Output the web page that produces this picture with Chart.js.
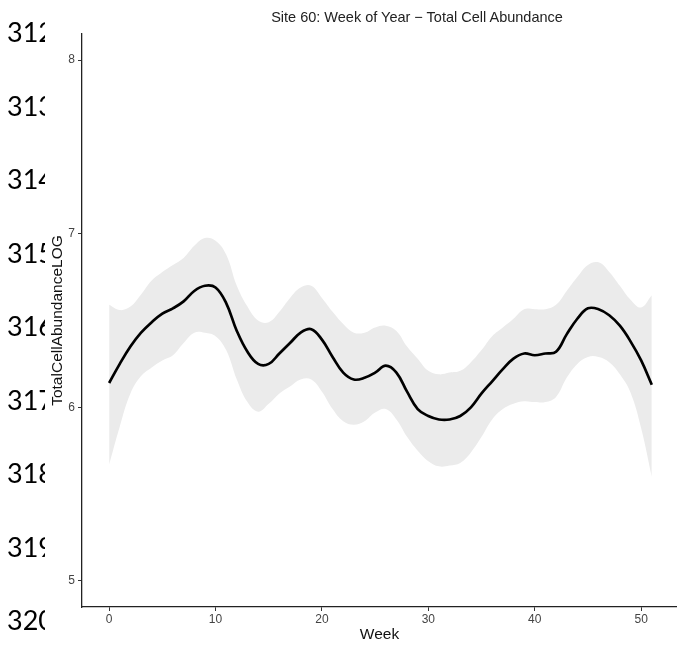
<!DOCTYPE html>
<html>
<head>
<meta charset="utf-8">
<script src="https://cdn.jsdelivr.net/npm/chart.js@4.4.1/dist/chart.umd.min.js"></script>
<style>
  html, body { margin: 0; padding: 0; background: #fff; }
  #wrap { position: relative; width: 677px; height: 645px; overflow: hidden; }
  #c { position: absolute; left: 0; top: 0; }
  #lines { position: absolute; left: 0; top: 0; width: 45px; height: 645px; overflow: hidden; }
  .ln { position: absolute; left: 7px; font-family: Lato, "Open Sans", sans-serif; font-size: 27px;
        line-height: 30px; color: #000; white-space: nowrap; }
  #title { position: absolute; top: 9px; left: 217px; width: 400px; text-align: center;
           font-family: "Liberation Sans", Arial, sans-serif; font-size: 14.5px; color: #222; white-space: nowrap; }
</style>
</head>
<body>
<div id="wrap">
  <canvas id="c" width="677" height="645"></canvas>
  <div id="lines"></div>
  <div id="title"></div>
</div>
<script>
// Weekly smoothed fit of log total cell abundance with its confidence band
const weeks = [0, 1, 2, 3, 4, 5, 6, 7, 8, 9, 10, 11, 12, 13, 14, 15, 16, 17, 18, 19, 20, 21, 22, 23, 24, 25,
               26, 27, 28, 29, 30, 31, 32, 33, 34, 35, 36, 37, 38, 39, 40, 41, 42, 43, 44, 45, 46, 47, 48, 49, 50, 51];
const fitValues = [6.14, 6.25, 6.35, 6.43, 6.49, 6.54, 6.57, 6.61, 6.67, 6.70, 6.69, 6.60, 6.44, 6.32, 6.25, 6.25,
                   6.31, 6.37, 6.43, 6.45, 6.39, 6.29, 6.20, 6.16, 6.17, 6.20, 6.24, 6.20, 6.09, 5.99, 5.95, 5.93,
                   5.93, 5.95, 6.00, 6.08, 6.15, 6.22, 6.28, 6.31, 6.30, 6.31, 6.32, 6.42, 6.51, 6.57, 6.565, 6.53,
                   6.47, 6.38, 6.27, 6.13];
const upperValues = [6.59, 6.56, 6.58, 6.65, 6.73, 6.78, 6.82, 6.86, 6.93, 6.975, 6.96, 6.88, 6.70, 6.58, 6.50, 6.49,
                     6.55, 6.63, 6.69, 6.70, 6.63, 6.55, 6.48, 6.43, 6.43, 6.46, 6.47, 6.44, 6.35, 6.28, 6.21, 6.19,
                     6.20, 6.21, 6.26, 6.33, 6.41, 6.46, 6.51, 6.565, 6.565, 6.565, 6.59, 6.67, 6.75, 6.82, 6.835, 6.78,
                     6.70, 6.62, 6.575, 6.645];
const lowerValues = [5.67, 5.89, 6.08, 6.18, 6.23, 6.27, 6.30, 6.37, 6.43, 6.43, 6.41, 6.33, 6.16, 6.03, 5.975, 6.02,
                     6.08, 6.12, 6.16, 6.16, 6.09, 5.99, 5.92, 5.90, 5.92, 5.97, 5.99, 5.93, 5.83, 5.75, 5.69, 5.66,
                     5.665, 5.68, 5.74, 5.83, 5.93, 5.99, 6.02, 6.035, 6.03, 6.03, 6.06, 6.17, 6.25, 6.29, 6.29, 6.26,
                     6.19, 6.085, 5.88, 5.60];
const xTickValues = [0, 10, 20, 30, 40, 50];
const yTickValues = [5, 6, 7, 8];
const lineNumbers = ['312', '313', '314', '315', '316', '317', '318', '319', '320'];

const chartTitle = 'Site 60: Week of Year \u2212 Total Cell Abundance';
const xTitle = 'Week';
const yTitle = 'TotalCellAbundanceLOG';

// manuscript line numbers running down the left margin
const lines = document.getElementById('lines');
lineNumbers.forEach((t, i) => {
  const d = document.createElement('div');
  d.className = 'ln';
  d.textContent = t;
  d.style.top = (17 + i * 73.5) + 'px';
  lines.appendChild(d);
});
document.getElementById('title').textContent = chartTitle;

const pts = arr => weeks.map((w, i) => ({ x: w, y: arr[i] }));
const FONT = '"Liberation Sans", Arial, sans-serif';
const band = '#ebebeb';

new Chart(document.getElementById('c'), {
  type: 'line',
  data: {
    datasets: [
      { data: pts(fitValues), borderColor: '#000', borderWidth: 2.7, pointRadius: 0, tension: 0.4, fill: false },
      { data: pts(upperValues), borderWidth: 0, borderColor: band, pointRadius: 0, tension: 0.4,
        backgroundColor: band, fill: false },
      { data: pts(lowerValues), borderWidth: 0, borderColor: band, pointRadius: 0, tension: 0.4,
        backgroundColor: band, fill: 1 }
    ]
  },
  options: {
    responsive: false,
    animation: false,
    devicePixelRatio: 1,
    layout: { padding: { top: 34, left: 0, right: 0, bottom: 0 } },
    plugins: { legend: { display: false }, tooltip: { enabled: false }, title: { display: false } },
    scales: {
      x: {
        type: 'linear',
        min: -2.55,
        max: 53.37,
        afterBuildTicks: s => { s.ticks = xTickValues.map(v => ({ value: v })); },
        afterFit: s => { s.height = 38; },
        grid: { drawOnChartArea: false, drawTicks: true, tickLength: 4, tickColor: '#333' },
        border: { display: true, color: '#222', width: 1.3 },
        ticks: { color: '#444', font: { family: FONT, size: 12 }, padding: 1, maxRotation: 0 },
        title: { display: true, text: xTitle, color: '#111', font: { family: FONT, size: 15.5 },
                 padding: { top: 0, bottom: 0.5 } }
      },
      y: {
        min: 4.85,
        max: 8.15,
        afterBuildTicks: s => { s.ticks = yTickValues.map(v => ({ value: v })); },
        afterFit: s => { s.width = 82; },
        grid: { drawOnChartArea: false, drawTicks: true, tickLength: 4, tickColor: '#333' },
        border: { display: true, color: '#222', width: 1.3 },
        ticks: { color: '#444', font: { family: FONT, size: 12 }, padding: 3 },
        title: { display: true, text: yTitle, color: '#111', font: { family: FONT, size: 15.5 },
                 padding: { top: 48, bottom: 0 } }
      }
    }
  }
});
</script>
</body>
</html>
